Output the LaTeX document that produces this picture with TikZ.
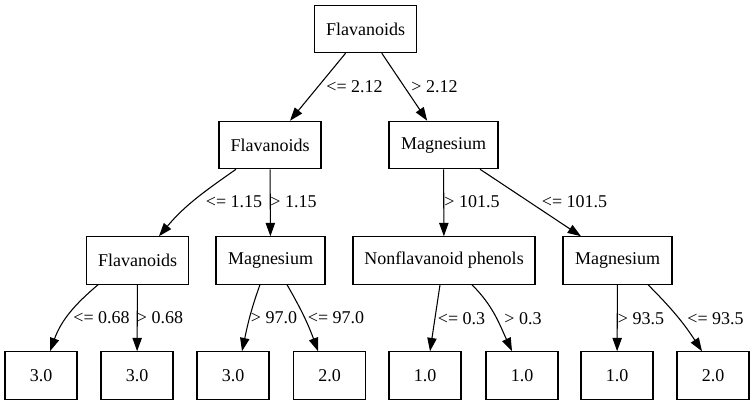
\documentclass[tikz,border=0pt]{standalone}
\usepackage{fontspec}
\setmainfont{Liberation Serif}
\usetikzlibrary{arrows.meta}
\tikzset{
  split/.style={draw, line width=0.8pt, minimum height=35.6pt, inner sep=0pt},
  leaf/.style={split, minimum width=54pt},
  cut/.style={inner sep=0pt}
}
\begin{document}
\begin{tikzpicture}[x=0.75pt, y=0.75pt, >={Triangle[length=10pt,width=7pt]}, font=\fontsize{13.5}{16}\selectfont, line width=0.8pt]
\useasboundingbox (0,0) rectangle (755,-407);
\node[split, minimum width=76.5pt] (root) at (365.5,-29) {Flavanoids};
\node[split, minimum width=76.5pt] (fla) at (270,-145) {Flavanoids};
\node[split, minimum width=81.75pt] (mga) at (443.5,-145) {Magnesium};
\node[split, minimum width=76.5pt] (flb) at (137.5,-260.5) {Flavanoids};
\node[split, minimum width=81.75pt] (mgb) at (270.5,-260.5) {Magnesium};
\node[split, minimum width=136.5pt] (nfp) at (444,-260.5) {Nonflavanoid phenols};
\node[split, minimum width=81.75pt] (mgc) at (617.5,-260.5) {Magnesium};
\node[leaf] (c1) at (41,-375.5) {3.0};
\node[leaf] (c2) at (137,-375.5) {3.0};
\node[leaf] (c3) at (233,-375.5) {3.0};
\node[leaf] (c4) at (329.5,-375.5) {2.0};
\node[leaf] (c5) at (425,-375.5) {1.0};
\node[leaf] (c6) at (522,-375.5) {1.0};
\node[leaf] (c7) at (617,-375.5) {1.0};
\node[leaf] (c8) at (713,-375.5) {2.0};
\draw[->] (root) -- (fla);
\draw[->] (root) -- (mga);
\draw[->] ([xshift=-25.5pt]fla.south) to[out=-145,in=50] ([xshift=16.1pt]flb.north);
\draw[->] (fla) -- (mgb);
\draw[->] (mga) -- (nfp);
\draw[->] (mga) -- (mgc);
\draw[->] ([xshift=-29.6pt]flb.south) to[out=-140,in=70] ([xshift=6.75pt]c1.north);
\draw[->] (flb) -- (c2);
\draw[->] ([xshift=-7.9pt]mgb.south) to[out=-110,in=78] ([xshift=6.75pt]c3.north);
\draw[->] ([xshift=12.4pt]mgb.south) to[out=-60,in=110] ([xshift=-8.6pt]c4.north);
\draw[->] ([xshift=-3pt]nfp.south) -- ([xshift=3.75pt]c5.north);
\draw[->] ([xshift=21pt]nfp.south) to[out=-45,in=115] ([xshift=-7.5pt]c6.north);
\draw[->] (mgc) -- (c7);
\draw[->] ([xshift=22.9pt]mgc.south) to[out=-45,in=123] ([xshift=-8.25pt]c8.north);
\node[cut] (t1) at (354.5,-87) {<= 2.12};
\node[cut] (t2) at (434.5,-87) {> 2.12};
\node[cut] (t3) at (234,-202) {<= 1.15};
\node[cut] (t4) at (293.5,-202) {> 1.15};
\node[cut] (t5) at (472,-202) {> 101.5};
\node[cut] (t6) at (574.5,-202) {<= 101.5};
\node[cut] (t7) at (101.5,-318) {<= 0.68};
\node[cut] (t8) at (160,-318) {> 0.68};
\node[cut] (t9) at (274,-318) {> 97.0};
\node[cut] (t10) at (336,-318) {<= 97.0};
\node[cut] (t11) at (461.5,-319) {<= 0.3};
\node[cut] (t12) at (523,-319) {> 0.3};
\node[cut] (t13) at (641,-319) {> 93.5};
\node[cut] (t14) at (715.5,-319) {<= 93.5};
\end{tikzpicture}
\end{document}
